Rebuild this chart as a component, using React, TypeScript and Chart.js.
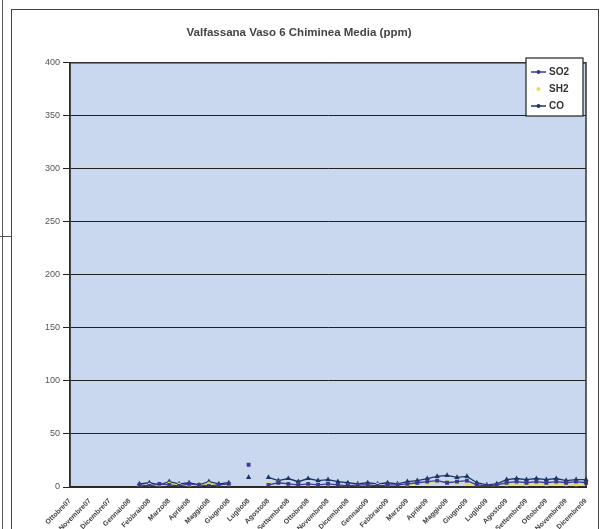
import React, { useEffect, useRef } from "react";
import { Chart, registerables } from "chart.js";

Chart.register(...registerables);

const TITLE = "Valfassana Vaso 6 Chiminea Media (ppm)";

const MONTHS = [
  "Ottobre07", "Novembre07", "Dicembre07", "Gennaio08", "Febbraio08", "Marzo08",
  "Aprile08", "Maggio08", "Giugno08", "Luglio08", "Agosto08", "Settembre08",
  "Ottobre08", "Novembre08", "Dicembre08", "Gennaio09", "Febbraio09", "Marzo09",
  "Aprile09", "Maggio09", "Giugno09", "Luglio09", "Agosto09", "Settembre09",
  "Ottobre09", "Novembre09", "Dicembre09",
];

// half-month samples (53 points, month labels on even points)
const SO2 = [
  null, null, null, null, null, null, null, 2, 1, 3, 2, 1, 3, 2, 1, 2, 3, null, 21,
  null, 2, 4, 3, 2, 3, 2, 3, 2, 1, 2, 2, 1, 2, 2, 3, 4, 5, 6, 4, 5, 6, 2, 1, 2,
  4, 5, 4, 5, 4, 5, 4, 5, 4,
];
const SH2 = [
  null, null, null, null, null, null, null, 1, 2, 1, 3, 2, 1, 2, 3, 1, 2, null, null,
  null, 3, 4, 3, 2, 2, 1, 2, 1, 1, 2, 1, 2, 1, 2, 2, 3, 4, 5, 5, 4, 3, 1, 1, 1,
  2, 3, 2, 3, 2, 3, 2, 2, 3,
];
const CO = [
  null, null, null, null, null, null, null, 3, 4, 2, 5, 3, 4, 2, 5, 3, 4, null, 9,
  null, 9, 6, 8, 5, 8, 6, 7, 5, 4, 3, 4, 3, 4, 3, 5, 6, 8, 10, 11, 9, 10, 4, 2, 3,
  7, 8, 7, 8, 7, 8, 6, 7, 7,
];

const Y_TICKS = [0, 50, 100, 150, 200, 250, 300, 350, 400];

const CATEGORIES: string[] = [];
for (let i = 0; i < MONTHS.length; i++) {
  CATEGORIES.push(MONTHS[i]);
  if (i < MONTHS.length - 1) CATEGORIES.push("");
}

const SERIES = [
  { label: "SO2", data: SO2, color: "#3a3a9a", style: "rect" },
  { label: "SH2", data: SH2, color: "#e8dc55", style: "circle" },
  { label: "CO", data: CO, color: "#1c3766", style: "triangle" },
];

const FONT = "'Liberation Sans', Arial, sans-serif";

const bgPlugin = {
  id: "plotBg",
  beforeDraw(chart: any) {
    const { ctx, chartArea: a } = chart;
    ctx.save();
    ctx.fillStyle = "#c9d8ef";
    ctx.fillRect(a.left, a.top, a.right - a.left, a.bottom - a.top);
    ctx.restore();
  },
  afterDraw(chart: any) {
    const { ctx, chartArea: a } = chart;
    ctx.save();
    ctx.strokeStyle = "#333";
    ctx.lineWidth = 1.5;
    ctx.strokeRect(a.left, a.top, a.right - a.left, a.bottom - a.top);
    // legend box
    const bx = 526, by = 58, bw = 57, bh = 58;
    ctx.fillStyle = "#ffffff";
    ctx.fillRect(bx, by, bw, bh);
    ctx.lineWidth = 1.2;
    ctx.strokeStyle = "#222";
    ctx.strokeRect(bx, by, bw, bh);
    ctx.font = `bold 10px ${FONT}`;
    ctx.textBaseline = "middle";
    SERIES.forEach((s, i) => {
      const y = by + 14 + i * 17;
      ctx.strokeStyle = s.color;
      ctx.lineWidth = 1.5;
      if (s.label !== "SH2") {
        ctx.beginPath();
        ctx.moveTo(bx + 5, y);
        ctx.lineTo(bx + 20, y);
        ctx.stroke();
      }
      ctx.fillStyle = s.color;
      ctx.beginPath();
      ctx.arc(bx + 12.5, y, 2, 0, Math.PI * 2);
      ctx.fill();
      ctx.fillStyle = "#333";
      ctx.fillText(s.label, bx + 23, y + 0.5);
    });
    ctx.restore();
  },
};

export default function App() {
  const ref = useRef<HTMLCanvasElement>(null);
  useEffect(() => {
    if (!ref.current) return;
    const chart = new Chart(ref.current, {
      type: "line",
      data: {
        labels: CATEGORIES,
        datasets: SERIES.map((s) => ({
          label: s.label,
          data: s.data,
          borderColor: s.color,
          backgroundColor: s.color,
          borderWidth: s.label === "SH2" ? 1 : 1.3,
          pointRadius: 1.8,
          pointStyle: s.style as any,
          spanGaps: false,
          tension: 0,
        })),
      },
      plugins: [bgPlugin],
      options: {
        responsive: false,
        animation: false,
        layout: { padding: { left: 12, right: 15, top: 0, bottom: 0 } },
        plugins: {
          legend: { display: false },
          tooltip: { enabled: false },
          title: {
            display: true,
            text: TITLE,
            color: "#444",
            font: { family: FONT, size: 11.5, weight: "bold", lineHeight: 1.2 },
            padding: { top: 26, bottom: 23 },
          },
        },
        scales: {
          x: {
            grid: { display: false },
            border: { display: true, color: "#111", width: 2 },
            ticks: {
              autoSkip: false,
              maxRotation: 45,
              minRotation: 45,
              color: "#444",
              padding: 2,
              font: { family: FONT, size: 7, weight: "bold" },
            },
            afterFit: (s: any) => {
              s.height = 42;
            },
          },
          y: {
            min: 0,
            max: 400,
            afterBuildTicks: (s: any) => {
              s.ticks = Y_TICKS.map((v) => ({ value: v }));
            },
            grid: { color: "#222", lineWidth: 1, tickLength: 7, drawTicks: true },
            border: { display: true, color: "#222", width: 1.5 },
            ticks: {
              color: "#555",
              padding: 3,
              font: { family: FONT, size: 9 },
            },
            afterFit: (s: any) => {
              s.width = 58;
            },
          },
        },
      },
    });
    return () => chart.destroy();
  }, []);

  return (
    <div
      style={{
        position: "fixed",
        left: 0,
        top: 0,
        width: 601,
        height: 529,
        background: "#ffffff",
        overflow: "hidden",
      }}
    >
      <div style={{ position: "absolute", left: 2, top: 0, width: 0, height: 529, borderLeft: "1.5px solid #555" }} />
      <div style={{ position: "absolute", left: 0, top: 236, width: 12, height: 0, borderTop: "1.5px solid #555" }} />
      <div
        style={{
          position: "absolute",
          left: 11,
          top: 9,
          width: 586,
          height: 540,
          border: "1.5px solid #444",
        }}
      />
      <canvas
        ref={ref}
        width={601}
        height={529}
        style={{ position: "absolute", left: 0, top: 0, display: "block" }}
      />
    </div>
  );
}
